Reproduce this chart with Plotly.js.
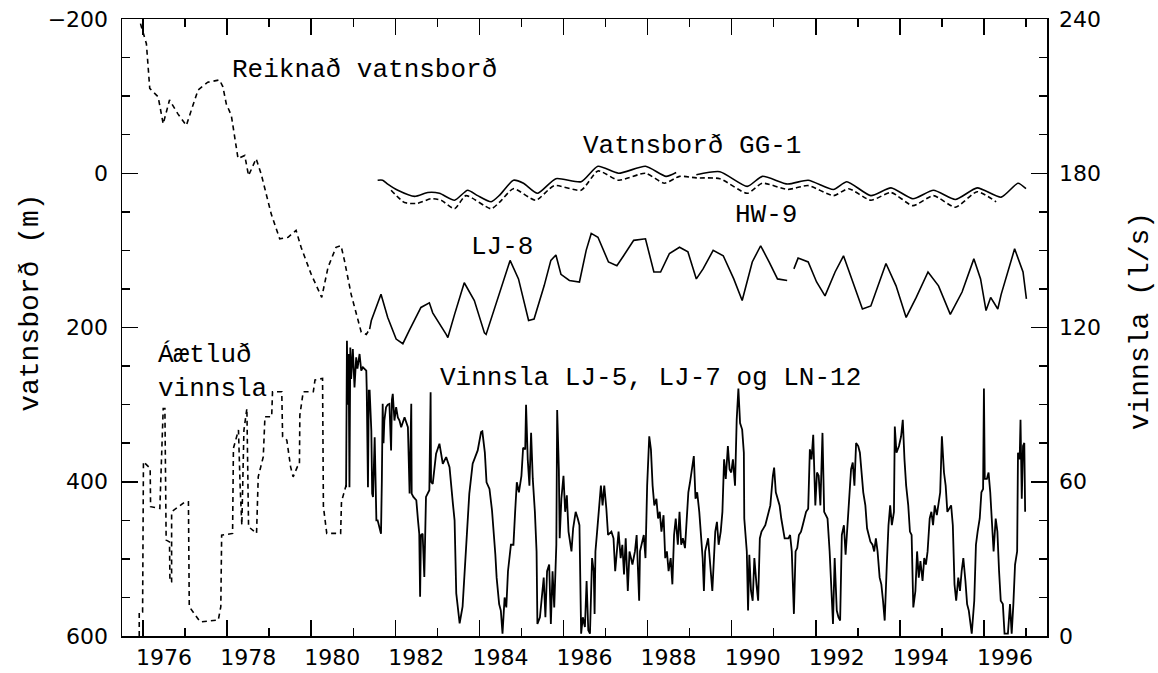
<!DOCTYPE html>
<html>
<head>
<meta charset="utf-8">
<script src="https://cdn.plot.ly/plotly-3.0.1.min.js"></script>
<style>
html,body{margin:0;padding:0;background:#fff;}
#chart{width:1158px;height:673px;}
</style>
</head>
<body>
<div id="chart"></div>
<script>
// ---- Reiknað vatnsborð (computed water level, m) ----
const reiknYear = [1975.94,1976.08,1976.16,1976.36,1976.48,1976.63,1976.83,1977.03,1977.15,1977.31,1977.54,1977.82,1977.90,1977.98,1978.10,1978.26,1978.42,1978.51,1978.69,1978.81,1979.05,1979.25,1979.45,1979.64,1979.76,1980.00,1980.25,1980.40,1980.59,1980.71,1980.79,1980.95,1981.19,1981.31,1981.39];
const reiknLevel = [-194,-168,-110,-99,-64,-95,-77,-62,-82,-108,-118,-121,-112,-90,-75,-19,-23,3,-19,1,53,85,83,74,96,131,161,122,96,94,113,157,206,209,202];

// ---- Vatnsborð GG-1 (m) ----
const gg1Year = [1981.58,1981.70,1981.82,1982.06,1982.46,1982.77,1983.05,1983.41,1983.72,1983.96,1984.28,1984.49,1984.81,1985.05,1985.38,1985.82,1986.42,1986.82,1987.31,1987.95,1988.44,1988.68,1988.90,1989.16,1989.72,1990.37,1990.73,1991.33,1991.82,1992.42,1992.74,1993.31,1993.79,1994.31,1994.80,1995.32,1995.84,1996.41,1996.81,1997.00];
const gg1Level = [9,9,14,22,30,25,26,35,22,29,37,28,9,13,26,7,11,-9,0,-9,4,-1,null,2,-2,17,4,14,9,21,11,29,19,33,22,34,19,31,13,20];

// ---- HW-9 (m) ----
const hw9Year = [1981.90,1982.22,1982.53,1982.85,1983.09,1983.41,1983.68,1984.28,1984.49,1984.81,1985.34,1985.78,1986.42,1986.82,1987.31,1987.95,1988.40,1988.76,1989.16,1989.72,1990.37,1990.73,1991.33,1991.82,1992.42,1992.78,1993.31,1993.79,1994.31,1994.80,1995.32,1995.84,1996.29];
const hw9Level = [22,38,39,33,35,46,29,46,37,20,35,16,22,-3,9,0,13,4,6,7,26,13,21,16,29,20,35,25,42,29,44,24,37];

// ---- LJ-8 (m) ----
const lj8Year = [1981.39,1981.43,1981.66,1981.82,1982.02,1982.18,1982.33,1982.61,1982.81,1982.89,1983.21,1983.25,1983.41,1983.64,1983.88,1984.12,1984.16,1984.49,1984.73,1984.93,1985.17,1985.30,1985.54,1985.70,1985.82,1985.94,1986.14,1986.38,1986.54,1986.66,1986.82,1987.07,1987.27,1987.43,1987.67,1987.95,1988.15,1988.31,1988.52,1988.76,1988.96,1989.16,1989.32,1989.56,1989.80,1990.05,1990.25,1990.49,1990.69,1990.89,1991.09,1991.32,1991.40,1991.48,1991.58,1991.82,1992.02,1992.22,1992.46,1992.66,1992.86,1993.11,1993.31,1993.67,1993.91,1994.15,1994.39,1994.67,1994.92,1995.20,1995.48,1995.76,1995.92,1996.05,1996.16,1996.33,1996.41,1996.73,1996.93,1997.01];
const lj8Level = [202,191,157,187,215,221,204,174,168,181,209,213,183,142,165,207,209,154,113,137,191,189,146,113,106,131,139,141,100,78,83,115,120,107,87,85,128,128,104,96,102,137,124,100,107,137,165,115,94,115,137,139,null,124,110,115,141,159,128,107,137,176,172,117,146,187,161,128,146,183,154,111,137,178,161,176,157,98,128,163];

// ---- Áætluð vinnsla (estimated production, l/s) ----
const aetYear = [1975.91,1975.91,1975.99,1976.01,1976.17,1976.18,1976.40,1976.48,1976.52,1976.55,1976.63,1976.64,1976.68,1976.68,1977.00,1977.08,1977.10,1977.36,1977.79,1977.85,1977.87,1978.13,1978.15,1978.27,1978.31,1978.35,1978.40,1978.47,1978.51,1978.70,1978.74,1978.86,1978.90,1979.06,1979.08,1979.30,1979.32,1979.42,1979.51,1979.57,1979.67,1979.72,1979.73,1979.81,1980.05,1980.09,1980.27,1980.29,1980.37,1980.70,1980.72,1980.83];
const aetFlow = [0,9.4,9.4,67.8,65.2,50.3,49.6,88.5,88.5,37.3,36.6,21.1,21.1,48.3,52.2,52.2,11.4,5.5,6.2,11.4,39.2,39.9,73.0,80.1,58.1,43.1,80.1,88.5,42.5,39.9,61.9,69.7,85.3,85.3,95.0,95.0,77.5,76.2,65.8,61.9,65.8,66.5,85.9,95.0,95.0,99.6,100.2,50.3,39.9,39.9,52.2,58.7];

// ---- Vinnsla LJ-5, LJ-7 og LN-12 (production, l/s) ----
const vinYear = [1980.83,1980.85,1980.87,1980.89,1980.91,1980.93,1980.95,1980.99,1981.03,1981.07,1981.10,1981.15,1981.19,1981.23,1981.31,1981.32,1981.35,1981.37,1981.39,1981.43,1981.45,1981.47,1981.51,1981.53,1981.55,1981.58,1981.62,1981.66,1981.68,1981.70,1981.72,1981.74,1981.78,1981.82,1981.86,1981.90,1981.92,1981.94,1981.98,1982.02,1982.06,1982.10,1982.14,1982.22,1982.30,1982.34,1982.38,1982.39,1982.43,1982.50,1982.54,1982.57,1982.59,1982.61,1982.65,1982.69,1982.73,1982.81,1982.84,1982.85,1982.89,1982.97,1983.05,1983.13,1983.21,1983.29,1983.37,1983.41,1983.45,1983.53,1983.60,1983.68,1983.76,1983.84,1983.96,1984.04,
1984.07,1984.13,1984.17,1984.24,1984.30,1984.38,1984.41,1984.47,1984.51,1984.55,1984.60,1984.64,1984.68,1984.75,1984.81,1984.85,1984.89,1984.94,1985.00,1985.04,1985.09,1985.11,1985.15,1985.19,1985.23,1985.27,1985.32,1985.36,1985.38,1985.44,1985.53,1985.57,1985.61,1985.66,1985.70,1985.74,1985.78,1985.83,1985.85,1985.89,1985.91,1985.95,1986.00,1986.04,1986.08,1986.12,1986.19,1986.23,1986.29,1986.34,1986.38,1986.42,1986.46,1986.51,1986.55,1986.59,1986.63,1986.68,1986.72,1986.74,1986.76,1986.80,1986.89,1986.93,1986.97,1987.02,1987.06,1987.14,1987.19,1987.23,1987.27,1987.31,1987.36,1987.40,1987.44,1987.48,1987.53,1987.57,1987.64,1987.70,1987.74,1987.80,1987.82,1987.91,1987.95,1987.99,1988.04,1988.08,1988.12,1988.16,1988.21,1988.25,1988.29,1988.33,1988.38,1988.42,1988.46,1988.50,1988.55,1988.59,1988.63,1988.67,1988.72,1988.76,1988.80,1988.84,1988.89,1988.93,1988.97,1989.01,1989.06,1989.10,1989.14,1989.18,1989.23,1989.27,1989.31,1989.34,1989.37,1989.44,1989.48,1989.51,1989.54,1989.61,1989.65,1989.69,1989.74,1989.78,1989.82,1989.86,1989.91,1989.95,1989.99,1990.03,1990.08,1990.12,1990.16,1990.20,1990.25,1990.29,1990.30,1990.36,1990.39,1990.42,1990.46,1990.50,1990.54,1990.59,1990.63,1990.67,1990.71,1990.80,1990.88,1990.92,1990.98,1991.01,1991.05,1991.14,1991.18,1991.22,1991.26,1991.35,1991.39,1991.43,1991.48,1991.52,1991.56,1991.60,1991.65,1991.69,1991.73,1991.77,1991.82,1991.86,1991.90,1991.94,1991.99,1992.03,1992.07,1992.11,1992.16,1992.20,1992.24,1992.28,1992.33,1992.37,1992.41,1992.45,1992.50,1992.54,1992.58,1992.62,1992.67,1992.71,1992.75,1992.79,1992.84,1992.88,1992.92,1992.96,1993.01,1993.05,1993.09,1993.13,1993.18,1993.22,1993.26,1993.30,1993.35,1993.39,1993.43,1993.47,1993.52,1993.56,1993.60,1993.64,1993.69,1993.73,1993.77,1993.81,1993.86,1993.88,1993.92,1993.98,1994.03,1994.07,1994.11,1994.15,1994.20,1994.24,1994.28,1994.32,1994.37,1994.41,1994.45,1994.49,1994.54,1994.58,1994.62,1994.66,1994.71,1994.75,1994.79,1994.83,1994.88,1994.96,1995.00,1995.05,1995.09,1995.13,1995.22,1995.26,1995.30,1995.34,1995.39,1995.43,1995.47,1995.51,1995.56,1995.60,1995.64,1995.71,1995.77,1995.81,1995.85,1995.90,1995.94,1995.98,1996.00,1996.02,1996.07,1996.11,1996.15,1996.19,1996.23,1996.28,1996.32,1996.36,1996.40,1996.45,1996.49,1996.53,1996.57,1996.62,1996.66,1996.70,1996.74,1996.79,1996.81,1996.85,1996.87,1996.90,1996.93,1996.96,1996.98];
const vinFlow = [57.9,114.8,90.0,109.7,57.9,112.2,100.0,111.6,96.7,108.4,104.0,109.7,103.2,104.5,103.2,96.7,57.9,95.4,95.4,79.9,55.4,54.1,77.3,52.8,45.0,45.0,42.0,39.8,60.0,90.3,75.0,83.8,89.0,90.0,90.3,72.2,92.0,94.2,83.8,89.0,85.0,83.8,81.2,85.1,81.2,55.4,90.3,55.4,54.1,52.8,45.0,39.8,15.3,39.2,39.8,23.0,54.1,56.7,94.8,60.0,59.2,70.9,74.8,67.0,69.6,65.7,51.5,45.0,16.6,4.9,11.4,32.1,55.4,67.0,72.2,79.3,
79.6,71.3,59.8,57.2,48.9,31.6,22.7,12.4,9.9,0.9,15.0,11.1,25.2,35.5,35.5,48.3,59.8,55.9,62.3,73.2,72.6,89.9,68.7,58.5,79.0,61.1,48.3,32.9,4.7,7.3,22.7,7.3,25.2,27.8,4.7,25.2,11.1,35.5,87.9,64.9,38.0,53.4,62.3,48.3,54.7,40.6,32.9,41.9,48.3,45.7,43.1,0.9,7.3,3.5,21.4,2.2,0.9,30.3,25.2,8.6,32.9,40.6,58.5,50.8,58.5,49.5,39.3,40.6,38.0,25.2,32.9,40.6,30.3,35.5,23.9,38.0,17.5,32.9,27.8,32.9,39.3,13.7,32.9,39.3,30.3,58.5,77.7,72.6,58.5,50.8,53.4,45.7,48.3,40.6,47.0,30.3,32.9,25.2,30.3,20.1,39.3,45.7,35.5,48.3,35.5,38.0,34.2,45.7,55.9,59.8,64.9,70.0,53.4,55.9,48.3,38.0,30.3,17.5,32.9,38.0,30.3,22.7,17.5,40.6,44.4,35.5,40.6,48.3,68.7,61.1,73.9,64.9,63.6,68.7,58.5,84.1,96.3,82.8,80.3,71.3,45.7,32.9,9.9,31.6,17.5,13.7,30.3,20.1,13.7,38.0,40.6,43.1,48.3,50.8,62.3,65.5,55.9,50.8,45.7,41.9,38.0,38.0,39.3,32.9,8.6,32.9,34.2,39.3,40.6,43.1,45.7,48.3,49.5,72.6,68.7,78.3,50.8,63.6,62.3,50.8,79.0,48.3,47.0,45.7,32.9,20.1,4.7,30.3,9.9,7.3,6.0,39.3,43.1,31.6,43.1,50.8,64.9,67.5,58.5,75.1,73.9,71.3,63.6,55.9,50.8,41.9,39.3,36.7,35.5,32.9,38.0,32.9,22.7,20.1,13.7,6.0,27.8,43.1,50.8,43.1,48.3,81.5,71.3,73.9,77.7,84.1,68.7,58.5,50.8,40.6,39.3,11.1,17.5,32.9,22.7,29.1,21.4,30.3,27.8,32.9,45.7,48.3,43.1,50.8,47.0,55.9,77.7,63.6,58.5,48.3,50.8,43.1,20.1,13.7,22.7,17.5,25.2,30.3,21.4,12.4,9.9,0.9,13.7,35.5,40.6,45.7,55.9,57.2,96.3,61.1,61.1,63.6,55.9,45.7,32.9,45.7,40.6,25.2,13.7,12.4,0.9,0.9,0.9,12.4,0.9,12.4,27.8,32.9,71.3,68.7,84.1,53.4,73.9,75.1,48.3];

// ---- Axis labels ----
const yearLabels = ['1976','1978','1980','1982','1984','1986','1988','1990','1992','1994','1996'];
const xRange = [1975.5, 1997.5];
const levelRange = [600, -200];
const flowRange = [0, 240];

const tickFont = {family: 'DejaVu Sans, Liberation Sans, sans-serif', size: 22, color: '#000'};
const textFont = {family: 'Liberation Mono, DejaVu Sans Mono, monospace', size: 26, color: '#000'};
const titleFont = {family: 'Liberation Mono, DejaVu Sans Mono, monospace', size: 28, color: '#000'};

const lineW = 1.6;
const traces = [
  {x: reiknYear, y: reiknLevel, xaxis:'x', yaxis:'y', mode:'lines', line:{color:'#000', width:lineW, dash:'5px,4px'}, hoverinfo:'skip'},
  {x: gg1Year, y: gg1Level, xaxis:'x', yaxis:'y', mode:'lines', line:{color:'#000', width:lineW, shape:'spline', smoothing:0.6}, connectgaps:false, hoverinfo:'skip'},
  {x: hw9Year, y: hw9Level, xaxis:'x', yaxis:'y', mode:'lines', line:{color:'#000', width:lineW, dash:'5px,3px', shape:'spline', smoothing:0.6}, hoverinfo:'skip'},
  {x: lj8Year, y: lj8Level, xaxis:'x', yaxis:'y', mode:'lines', line:{color:'#000', width:lineW}, connectgaps:false, hoverinfo:'skip'},
  {x: aetYear, y: aetFlow, xaxis:'x', yaxis:'y2', mode:'lines', line:{color:'#000', width:lineW, dash:'5px,4px'}, hoverinfo:'skip'},
  {x: vinYear, y: vinFlow, xaxis:'x', yaxis:'y2', mode:'lines', line:{color:'#000', width:1.8}, hoverinfo:'skip'},
  {x: [], y: [], xaxis:'x2', yaxis:'y', mode:'lines', hoverinfo:'skip'}
];

const layout = {
  width: 1158, height: 673,
  margin: {l:122, r:111, t:19, b:37, pad:0},
  paper_bgcolor:'#fff', plot_bgcolor:'#fff',
  showlegend:false,
  xaxis: {
    range: xRange, showline:true, linecolor:'#000', linewidth:1.5, mirror:'ticks',
    ticks:'inside', tickmode:'linear', tick0:1976, dtick:2, ticklen:16, tickwidth:1.5, tickcolor:'#000',
    minor:{tickmode:'linear', tick0:1975, dtick:1, ticks:'inside', ticklen:8, tickwidth:1.5, tickcolor:'#000', showgrid:false},
    showticklabels:false, showgrid:false, zeroline:false
  },
  xaxis2: {
    overlaying:'x', anchor:'y', side:'bottom', range: xRange,
    tickmode:'array', tickvals: yearLabels.map(s => Number(s) + 0.5), ticktext: yearLabels,
    ticks:'', showline:false, showgrid:false, zeroline:false, tickfont: tickFont, ticklabelstandoff: 6
  },
  yaxis: {
    range: levelRange, showline:true, linecolor:'#000', linewidth:1.5,
    ticks:'inside', tickmode:'linear', tick0:-200, dtick:200, ticklen:16, tickwidth:1.5, tickcolor:'#000',
    minor:{tickmode:'linear', dtick:50, ticks:'inside', ticklen:8, tickwidth:1.5, tickcolor:'#000', showgrid:false},
    showgrid:false, zeroline:false, tickfont: tickFont, ticklabelstandoff: 8
  },
  yaxis2: {
    overlaying:'y', side:'right', anchor:'x', range: flowRange, showline:true, linecolor:'#000', linewidth:1.5,
    ticks:'inside', tickmode:'linear', tick0:0, dtick:60, ticklen:16, tickwidth:1.5, tickcolor:'#000',
    minor:{tickmode:'linear', dtick:15, ticks:'inside', ticklen:8, tickwidth:1.5, tickcolor:'#000', showgrid:false},
    showgrid:false, zeroline:false, tickfont: tickFont, ticklabelstandoff: 6
  },
  annotations: [
    {text:'Reiknað vatnsborð', x:1978.07, y:-134, xref:'x', yref:'y', xanchor:'left', yanchor:'middle', showarrow:false, font:textFont},
    {text:'Vatnsborð GG-1', x:1986.42, y:-35, xref:'x', yref:'y', xanchor:'left', yanchor:'middle', showarrow:false, font:textFont},
    {text:'HW-9', x:1990.82, y:54, xref:'x', yref:'y', xanchor:'center', yanchor:'middle', showarrow:false, font:textFont},
    {text:'LJ-8', x:1984.54, y:96, xref:'x', yref:'y', xanchor:'center', yanchor:'middle', showarrow:false, font:textFont},
    {text:'Áætluð<br>vinnsla', x:1976.31, y:258, xref:'x', yref:'y', xanchor:'left', yanchor:'middle', align:'left', showarrow:false, font:textFont},
    {text:'Vinnsla LJ-5, LJ-7 og LN-12', x:1983.02, y:265, xref:'x', yref:'y', xanchor:'left', yanchor:'middle', showarrow:false, font:textFont},
    {text:'vatnsborð (m)', x:0, y:0.54, xref:'paper', yref:'paper', xanchor:'center', yanchor:'middle', xshift:-91, textangle:-90, showarrow:false, font:titleFont},
    {text:'vinnsla (l/s)', x:1, y:0.51, xref:'paper', yref:'paper', xanchor:'center', yanchor:'middle', xshift:93, textangle:-90, showarrow:false, font:titleFont}
  ]
};

Plotly.newPlot('chart', traces, layout, {displayModeBar:false, staticPlot:true});
</script>
</body>
</html>
